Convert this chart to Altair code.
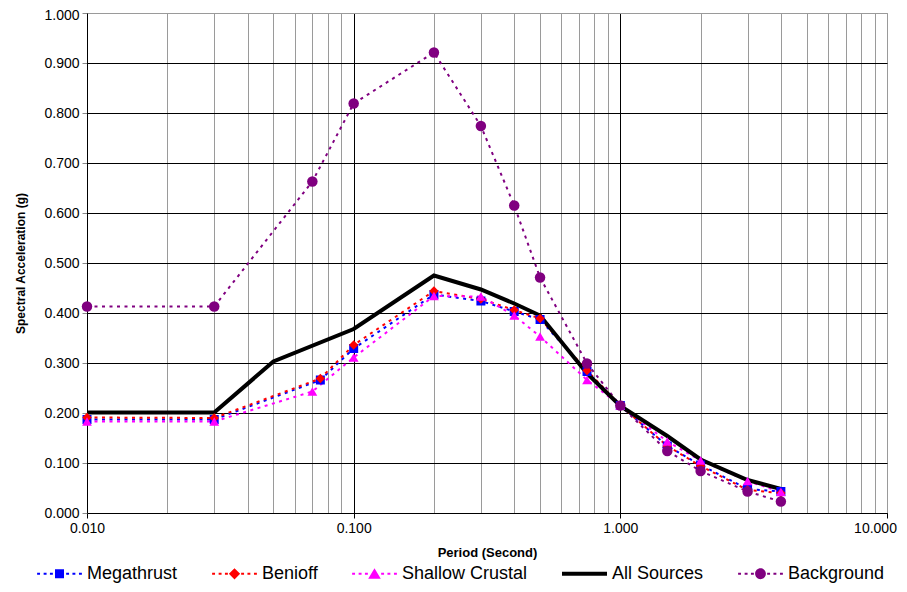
import altair as alt
import pandas as pd

series_names = ["Megathrust", "Benioff", "Shallow Crustal", "All Sources", "Background"]
series_colors = ["#0000FF", "#FF0000", "#FF00FF", "#000000", "#800080"]
series_shapes = ["square", "diamond", "triangle-up", "circle", "circle"]

mega_period = [0.01, 0.03, 0.075, 0.1, 0.2, 0.3, 0.4, 0.5, 0.75, 1.0, 1.5, 2.0, 3.0, 4.0]
mega_sa = [0.187, 0.187, 0.266, 0.329, 0.437, 0.424, 0.403, 0.387, 0.283, 0.215, 0.134, 0.096, 0.048, 0.043]

benioff_period = [0.01, 0.03, 0.075, 0.1, 0.2, 0.3, 0.4, 0.5, 0.75, 1.0, 1.5, 2.0, 3.0, 4.0]
benioff_sa = [0.191, 0.190, 0.269, 0.336, 0.444, 0.428, 0.406, 0.389, 0.285, 0.215, 0.134, 0.094, 0.046, 0.040]

shallow_period = [0.01, 0.03, 0.07, 0.1, 0.2, 0.3, 0.4, 0.5, 0.75, 1.0, 1.5, 2.0, 3.0, 4.0]
shallow_sa = [0.183, 0.183, 0.243, 0.311, 0.434, 0.433, 0.395, 0.353, 0.266, 0.215, 0.143, 0.105, 0.064, 0.042]

all_period = [0.01, 0.03, 0.05, 0.1, 0.2, 0.3, 0.4, 0.5, 0.75, 1.0, 1.5, 2.0, 3.0, 4.0]
all_sa = [0.201, 0.201, 0.303, 0.368, 0.475, 0.447, 0.419, 0.395, 0.279, 0.214, 0.154, 0.107, 0.066, 0.048]

bg_period = [0.01, 0.03, 0.07, 0.1, 0.2, 0.3, 0.4, 0.5, 0.75, 1.0, 1.5, 2.0, 3.0, 4.0]
bg_sa = [0.413, 0.413, 0.663, 0.819, 0.921, 0.774, 0.615, 0.471, 0.299, 0.215, 0.124, 0.084, 0.043, 0.023]

x_ticks = [0.01, 0.02, 0.03, 0.04, 0.05, 0.06, 0.07, 0.08, 0.09,
           0.1, 0.2, 0.3, 0.4, 0.5, 0.6, 0.7, 0.8, 0.9,
           1, 2, 3, 4, 5, 6, 7, 8, 9, 10]
y_ticks = [0.0, 0.1, 0.2, 0.3, 0.4, 0.5, 0.6, 0.7, 0.8, 0.9, 1.0]

rows = []
for name, per, sa in [
    ("Megathrust", mega_period, mega_sa),
    ("Benioff", benioff_period, benioff_sa),
    ("Shallow Crustal", shallow_period, shallow_sa),
    ("All Sources", all_period, all_sa),
    ("Background", bg_period, bg_sa),
]:
    for i, (p, v) in enumerate(zip(per, sa)):
        rows.append({"Series": name, "Period": p, "SA": v, "idx": i})
df = pd.DataFrame(rows)

FONT = "Liberation Sans"


# ---- legend symbol glyphs (unit box -1..1, scaled by symbol size) ----
def _rect(x0, x1, y0, y1):
    return f"M{x0:.3f},{y0:.3f}H{x1:.3f}V{y1:.3f}H{x0:.3f}Z"


def _dots():
    parts = []
    for c in (-0.93, -0.64, -0.36, 0.36, 0.64, 0.93):
        parts.append(_rect(c - 0.065, c + 0.065, -0.045, 0.045))
    return "".join(parts)


def _circle(r):
    return f"M{r},0A{r},{r} 0 1,1 {-r},0A{r},{r} 0 1,1 {r},0Z"


legend_glyphs = [
    _dots() + _rect(-0.2, 0.2, -0.2, 0.2),
    _dots() + "M0,-0.25L0.25,0L0,0.25L-0.25,0Z",
    _dots() + "M0,-0.25L0.28,0.22L-0.28,0.22Z",
    _rect(-1, 1, -0.09, 0.09),
    _dots() + _circle(0.24),
]

x_enc = alt.X(
    "Period:Q",
    scale=alt.Scale(type="log", domain=[0.01, 10], nice=False),
    axis=alt.Axis(
        title="Period (Second)",
        values=x_ticks,
        labelExpr="indexof([0.01,0.1,1,10], datum.value) >= 0 ? format(datum.value, '.3f') : ''",
        gridColor={"condition": {"test": "indexof([0.1,1], datum.value) >= 0", "value": "#000000"},
                   "value": "#9a9a9a"},
        tickColor={"condition": {"test": "indexof([0.01,0.1,1,10], datum.value) >= 0", "value": "#000000"},
                   "value": "transparent"},
        labelOffset={"condition": {"test": "datum.value >= 9.5", "value": -12}, "value": 0},
        tickSize=5,
        labelPadding=3,
        labelFlush=False,
        titlePadding=11,
        titleFontSize=13,
    ),
)
y_enc = alt.Y(
    "SA:Q",
    scale=alt.Scale(domain=[0, 1], nice=False),
    axis=alt.Axis(
        title="Spectral Acceleration (g)",
        values=y_ticks,
        format=".3f",
        gridColor={"condition": {"test": "datum.value >= 0.99", "value": "#9a9a9a"},
                   "value": "#000000"},
        labelOffset={"condition": {"test": "datum.value >= 0.99", "value": 2}, "value": 0},
        tickSize=5,
        labelPadding=3,
        titlePadding=16,
        titleFontSize=12,
    ),
)

sc = lambda rng: alt.Scale(domain=series_names, range=rng)

legend_cfg = alt.Legend(
    title=None,
    orient="none",
    legendX=-50,
    legendY=538,
    direction="horizontal",
    columns=5,
    columnPadding=34,
    labelFont=FONT,
    labelFontSize=18,
    labelColor="#000000",
    labelOffset=5,
    symbolSize=2025,
    symbolStrokeWidth=0,
    padding=0,
)

color_plain = alt.Color("Series:N", scale=sc(series_colors), legend=None)

dotted = alt.Chart(df).transform_filter(
    alt.datum.Series != "All Sources"
).mark_line(strokeDash=[3, 4.5], strokeWidth=2, strokeCap="butt").encode(
    x=x_enc, y=y_enc, color=color_plain, detail="Series:N", order="idx:Q"
)

solid = alt.Chart(df).transform_filter(
    alt.datum.Series == "All Sources"
).mark_line(strokeWidth=4).encode(
    x=x_enc, y=y_enc, color=color_plain, order="idx:Q"
)

points = alt.Chart(df).transform_filter(
    alt.datum.Series != "All Sources"
).mark_point(filled=True, opacity=1).encode(
    x=x_enc,
    y=y_enc,
    color=color_plain,
    shape=alt.Shape("Series:N", scale=sc(series_shapes), legend=None),
    size=alt.Size("Series:N", scale=sc([81, 110, 120, 0, 100]), legend=None),
)

legend_layer = alt.Chart(df).transform_filter("false").mark_point(
    filled=True, opacity=1
).encode(
    x=x_enc,
    y=y_enc,
    color=alt.Color("Series:N", scale=sc(series_colors), legend=legend_cfg),
    shape=alt.Shape("Series:N", scale=sc(legend_glyphs), legend=legend_cfg),
)

chart = alt.layer(dotted, solid, points, legend_layer).resolve_scale(
    shape="independent", size="independent", color="independent"
).properties(
    width=800,
    height=500,
    autosize=alt.AutoSizeParams(type="none"),
    padding={"left": 79, "top": 5, "right": 12, "bottom": 71},
).configure_view(
    stroke="#9a9a9a", strokeWidth=1
).configure_axis(
    labelFont=FONT,
    labelFontSize=14,
    labelColor="#000000",
    titleFont=FONT,
    titleFontWeight="bold",
    titleColor="#000000",
    domainColor="#000000",
    domainWidth=1,
    gridWidth=1,
    gridOpacity=1,
).configure_legend(
    labelFont=FONT,
)

chart.save("out.html", embed_options={"renderer": "svg", "actions": False})
